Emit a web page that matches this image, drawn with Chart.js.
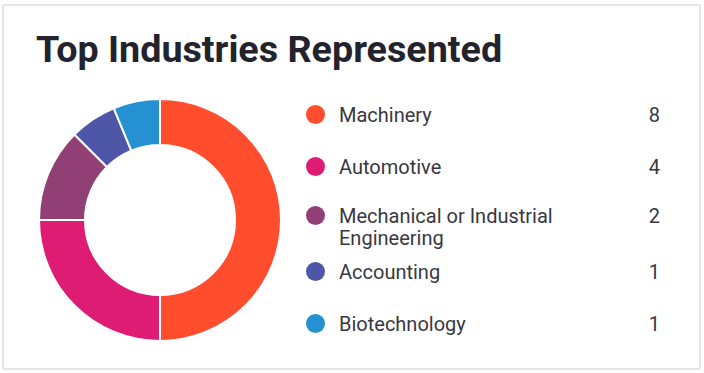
<!DOCTYPE html>
<html><head><meta charset="utf-8">
<script src="https://cdn.jsdelivr.net/npm/chart.js@4/dist/chart.umd.min.js"></script>
<style>
html,body{margin:0;padding:0;background:#fff;width:704px;height:373px;overflow:hidden;font-family:Roboto,sans-serif}
#card{position:absolute;left:2px;top:4px;width:699px;height:366px;border:2px solid #e6e6e6;box-sizing:border-box;border-radius:2px}
#title{position:absolute;left:36px;top:31px;font:700 37.7px/37px Roboto,sans-serif;color:#23232d;white-space:nowrap;margin:0}
#chartBox{position:absolute;left:38px;top:98px;width:244px;height:244px}
.row{position:absolute;left:306px;width:354px;font:400 20px/22px Roboto,sans-serif;color:#383842}
.dot{position:absolute;left:0;width:19px;height:19px;border-radius:50%}
.lab{position:absolute;left:33px;width:240px}
.val{position:absolute;right:0;text-align:right}
</style></head>
<body>
<div id="card"></div>
<h1 id="title">Top Industries Represented</h1>
<div id="chartBox"><canvas id="c" width="244" height="244"></canvas></div>
<div id="legend"></div>
<script>
const categories = ["Machinery", "Automotive", "Mechanical or Industrial Engineering", "Accounting", "Biotechnology"];
const counts = [8, 4, 2, 1, 1];
const colors = ["#FF4D2E", "#DE1C74", "#923F76", "#4E56A8", "#2590D2"];
const rowTops = [104, 156, 205, 261, 313];

const legend = document.getElementById('legend');
categories.forEach((name, i) => {
  const r = document.createElement('div');
  r.className = 'row';
  r.style.top = rowTops[i] + 'px';
  r.innerHTML = '<span class="dot" style="top:1px;background:' + colors[i] + '"></span>' +
    '<span class="lab">' + name + '</span><span class="val">' + counts[i] + '</span>';
  legend.appendChild(r);
});

new Chart(document.getElementById('c'), {
  type: 'doughnut',
  data: {
    labels: categories,
    datasets: [{
      data: counts,
      backgroundColor: colors,
      borderColor: '#ffffff',
      borderWidth: 2,
      hoverOffset: 0
    }]
  },
  options: {
    responsive: false,
    animation: false,
    cutout: '62%',
    events: [],
    layout: { padding: 0 },
    plugins: { legend: { display: false }, tooltip: { enabled: false }, title: { display: false } }
  }
});
</script>
</body></html>
